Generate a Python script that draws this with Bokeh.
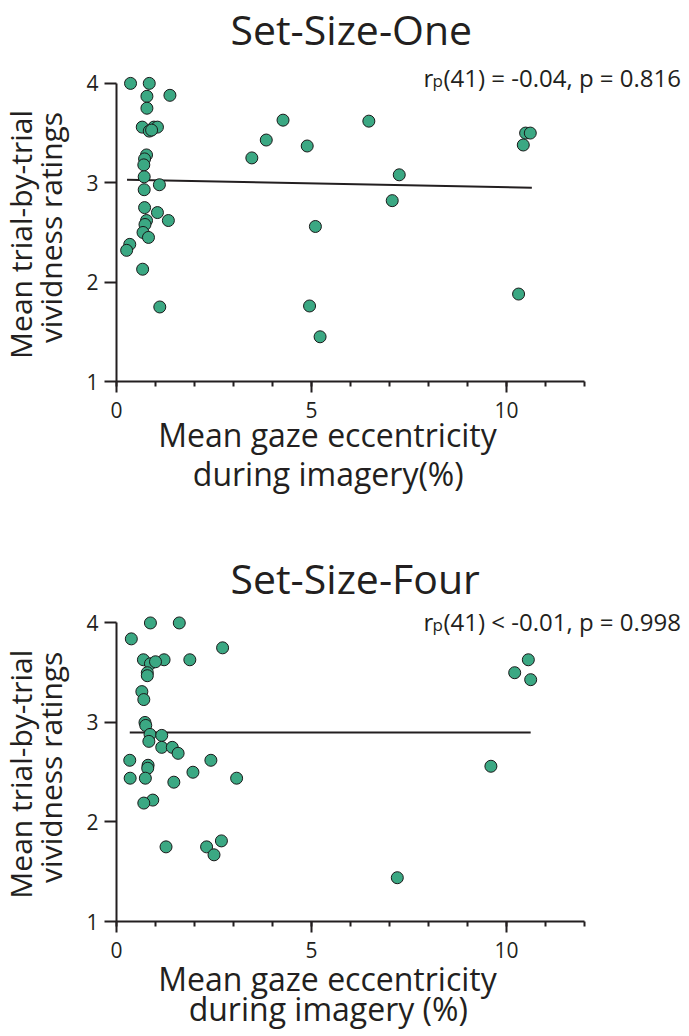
from bokeh.plotting import figure
from bokeh.layouts import column
from bokeh.models import Range1d, SingleIntervalTicker, FixedTicker, Label, ColumnDataSource
from bokeh.embed import file_html
from bokeh.resources import INLINE

# ---------------- data ----------------
titles = ["Set-Size-One", "Set-Size-Four"]
stat_texts = ["(41) = -0.04, p = 0.816", "(41) < -0.01, p = 0.998"]
x_label_lines = [["Mean gaze eccentricity", "during imagery(%)"],
                 ["Mean gaze eccentricity", "during imagery (%)"]]
y_label_lines = ["Mean trial-by-trial", "vividness ratings"]
y_tick_values = [1, 2, 3, 4]

one_x = [0.36, 0.84, 0.78, 1.37, 0.78, 0.66, 0.84, 0.96, 1.05, 0.90, 0.77, 0.72, 0.70,
         0.71, 1.10, 0.71, 0.72, 1.05, 1.33, 0.77, 0.73, 0.68, 0.82, 0.34, 0.26, 0.67,
         1.11, 3.47, 3.84, 4.27, 4.89, 5.10, 4.95, 5.22, 6.47, 7.25, 7.07, 10.49, 10.61,
         10.43, 10.31]
one_y = [4.00, 4.00, 3.87, 3.88, 3.75, 3.56, 3.52, 3.56, 3.56, 3.53, 3.28, 3.24, 3.18,
         3.06, 2.98, 2.93, 2.75, 2.70, 2.62, 2.62, 2.58, 2.50, 2.45, 2.38, 2.32, 2.13,
         1.75, 3.25, 3.43, 3.63, 3.37, 2.56, 1.76, 1.45, 3.62, 3.08, 2.82, 3.50, 3.50,
         3.38, 1.88]
one_fit_x = [0.27, 10.65]
one_fit_y = [3.03, 2.95]

four_x = [0.87, 1.61, 0.38, 2.72, 0.69, 1.22, 1.88, 0.87, 1.00, 0.79, 0.79, 0.65, 0.70,
          0.73, 0.75, 0.86, 1.16, 0.83, 1.16, 1.43, 1.58, 0.34, 2.42, 0.81, 0.80, 0.35,
          0.74, 1.96, 1.47, 3.08, 0.93, 0.70, 1.27, 2.31, 2.69, 2.50, 10.56, 10.21,
          10.62, 9.60, 7.20]
four_y = [4.00, 4.00, 3.84, 3.75, 3.63, 3.63, 3.63, 3.59, 3.61, 3.50, 3.47, 3.31, 3.23,
          3.00, 2.97, 2.88, 2.87, 2.81, 2.75, 2.75, 2.69, 2.62, 2.62, 2.57, 2.54, 2.44,
          2.44, 2.50, 2.40, 2.44, 2.22, 2.19, 1.75, 1.75, 1.81, 1.67, 3.63, 3.50,
          3.43, 2.56, 1.44]
four_fit_x = [0.34, 10.62]
four_fit_y = [2.90, 2.90]

# ---------------- style ----------------
FONT = "Open Sans"
INK = "#231F20"
GREEN = "#3BA883"
W = 686
X_END = 570 / 39.0


def panel(xs, ys, fx, fy, title, stat, xlines, height, top, bottom, y_top,
          title_y, stat_y, xl_y, line2_side):
    p = figure(width=W, height=height,
               x_range=Range1d(0, X_END), y_range=Range1d(1, y_top),
               output_backend="svg", toolbar_location=None,
               min_border_left=116, min_border_right=0,
               min_border_top=top, min_border_bottom=bottom)
    p.outline_line_color = None
    p.grid.visible = False
    p.background_fill_color = "white"
    p.border_fill_color = "white"

    p.xaxis.bounds = (0, 12)
    p.yaxis.bounds = (1, 4)
    p.xaxis.ticker = SingleIntervalTicker(interval=5, num_minor_ticks=5)
    p.yaxis.ticker = FixedTicker(ticks=y_tick_values)
    for ax in (p.xaxis[0], p.yaxis[0]):
        ax.axis_line_width = 2
        ax.axis_line_color = INK
        ax.major_tick_line_width = 2
        ax.major_tick_line_color = INK
        ax.minor_tick_line_width = 2
        ax.minor_tick_line_color = INK
        ax.major_tick_in = 0
        ax.minor_tick_in = 0
        ax.major_label_text_font = FONT
        ax.major_label_text_font_size = "21px"
        ax.major_label_text_color = INK
    p.xaxis.major_tick_out = 11
    p.xaxis.minor_tick_out = 5
    p.xaxis.major_label_standoff = 9
    p.yaxis.major_tick_out = 12
    p.yaxis.minor_tick_out = 0
    p.yaxis.major_label_standoff = 6

    src = ColumnDataSource(dict(x=xs, y=ys))
    p.line(fx, fy, line_color=INK, line_width=2)
    p.scatter("x", "y", source=src, size=12, fill_color=GREEN,
              line_color="#1A1A1A", line_width=1)

    # title and statistics (inside the frame)
    p.add_layout(Label(x=2.923, y=title_y, text=title, text_font=FONT,
                       text_font_size="41px", text_color=INK,
                       text_baseline="alphabetic", text_align="left"))
    p.add_layout(Label(x=7.872, y=stat_y, text="r", text_font=FONT,
                       text_font_size="24px", text_color=INK,
                       text_baseline="alphabetic"))
    p.add_layout(Label(x=7.872, y=stat_y, x_offset=9, y_offset=-3, text="p",
                       text_font=FONT, text_font_size="17px", text_color=INK,
                       text_baseline="alphabetic"))
    p.add_layout(Label(x=7.872, y=stat_y, x_offset=20, text=stat, text_font=FONT,
                       text_font_size="24px", text_color=INK,
                       text_baseline="alphabetic"))

    # axis titles (in side panels)
    p.add_layout(Label(x=5.41, y=xl_y[0], text=xlines[0], text_font=FONT,
                       text_font_size="32px", text_color=INK,
                       text_baseline="alphabetic", text_align="center"), "below")
    p.add_layout(Label(x=5.43, y=xl_y[1], text=xlines[1], text_font=FONT,
                       text_font_size="32px", text_color=INK,
                       text_baseline="alphabetic", text_align="center"), line2_side)
    p.add_layout(Label(x=-2.474, y=2.48, text=y_label_lines[0], text_font=FONT,
                       text_font_size="30px", text_color=INK, angle=90,
                       angle_units="deg", text_baseline="alphabetic",
                       text_align="center"), "left")
    p.add_layout(Label(x=-1.705, y=2.55, text=y_label_lines[1], text_font=FONT,
                       text_font_size="30px", text_color=INK, angle=90,
                       angle_units="deg", text_baseline="alphabetic",
                       text_align="center"), "left")
    return p


p1 = panel(one_x, one_y, one_fit_x, one_fit_y, titles[0], stat_texts[0],
           x_label_lines[0], 506, 0, 125, 1 + 381 / 99.37,
           4.546, 4.059, (0.467, 0.074), "below")
p2 = panel(four_x, four_y, four_fit_x, four_fit_y, titles[1], stat_texts[1],
           x_label_lines[1], 528, 40, 113, 1 + 375 / 100.32,
           4.454, 4.015, (0.432, 0.123), "above")

layout = column(p1, p2, spacing=0)
open("out.html", "w").write(file_html(layout, INLINE))
